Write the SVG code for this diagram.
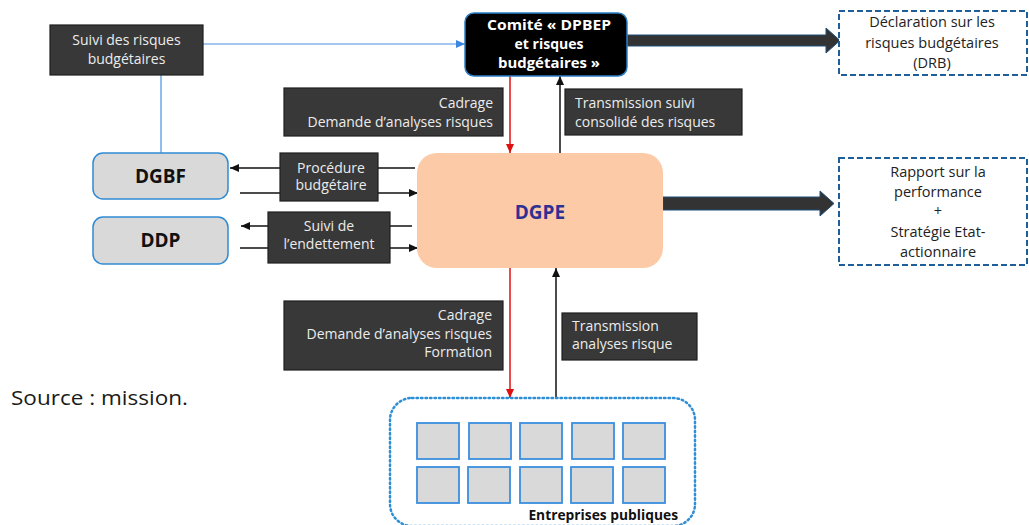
<svg xmlns="http://www.w3.org/2000/svg" width="1029" height="525" viewBox="0 0 1029 525">
<style>
text{font-family:"Open Sans","Noto Sans","DejaVu Sans",sans-serif}
.lbl rect{fill:#383838;stroke:#1e1e1e;stroke-width:1.2}
.lbl text{fill:#ececec;font-size:14px}
.gray{fill:#d9d9d9;stroke:#2f8ad3;stroke-width:1.5}
.big{font-size:19px;font-weight:bold;fill:#111;text-anchor:middle}
.dash{fill:#fff;stroke:#1f5f99;stroke-width:2;stroke-dasharray:6 3}
.out{fill:#222;font-size:14.5px;text-anchor:middle}
.sq{fill:#d9d9d9;stroke:#3a8ede;stroke-width:1.8}
.k{stroke:#111;stroke-width:1.5;fill:none}
.r{stroke:#e01010;stroke-width:1.5;fill:none}
.b{stroke:#4a8fe0;stroke-width:1.2;fill:none}
.thick{fill:#333;stroke:#1f4e79;stroke-width:1}
.cw{fill:#fff;font-size:14px;font-weight:bold;text-anchor:middle}
</style>
<defs>
<marker id="ak" markerUnits="userSpaceOnUse" markerWidth="10" markerHeight="10" refX="9" refY="5" orient="auto"><path d="M0,1 L9,5 L0,9 z" fill="#111"/></marker>
<marker id="ar" markerUnits="userSpaceOnUse" markerWidth="10" markerHeight="10" refX="9" refY="5" orient="auto"><path d="M0,1 L9,5 L0,9 z" fill="#e01010"/></marker>
<marker id="ab" markerUnits="userSpaceOnUse" markerWidth="10" markerHeight="10" refX="9" refY="5" orient="auto"><path d="M0,1 L9,5 L0,9 z" fill="#3a86e0"/></marker>
</defs>
<rect width="1029" height="525" fill="#fff"/>
<g id="connectors">
<line class="b" x1="203" y1="44" x2="465" y2="44" marker-end="url(#ab)"/>
<line class="b" x1="161" y1="75" x2="161" y2="153"/>
<line class="r" x1="510" y1="76" x2="510" y2="153" marker-end="url(#ar)"/>
<line class="k" x1="560" y1="153" x2="560" y2="76" marker-end="url(#ak)"/>
<line class="k" x1="415" y1="168" x2="230" y2="168" marker-end="url(#ak)"/>
<line class="k" x1="240" y1="193" x2="418" y2="193" marker-end="url(#ak)"/>
<line class="k" x1="412" y1="226" x2="241" y2="226" marker-end="url(#ak)"/>
<line class="k" x1="240" y1="248" x2="418" y2="248" marker-end="url(#ak)"/>
<line class="r" x1="510" y1="268" x2="510" y2="398" marker-end="url(#ar)"/>
<line class="k" x1="556" y1="398" x2="556" y2="268" marker-end="url(#ak)"/>
<path class="thick" d="M627,35 L826,35 L826,28 L840,40.5 L826,53 L826,46 L627,46 z"/>
<path class="thick" d="M663,197 L820,197 L820,191 L834,203.5 L820,216 L820,210 L663,210 z"/>
</g>
<g id="suivi-risques" class="lbl">
<rect x="50" y="25" width="153" height="50"/>
<text x="126.5" y="45" text-anchor="middle">Suivi des risques</text>
<text x="126.5" y="64" text-anchor="middle">budgétaires</text>
</g>
<g id="comite">
<rect x="465" y="13" width="162" height="63" rx="9" fill="#000" stroke="#2a7fc6" stroke-width="1.5"/>
<text class="cw" x="549" y="30" textLength="124" lengthAdjust="spacingAndGlyphs">Comité « DPBEP</text>
<text class="cw" x="549" y="49">et risques</text>
<text class="cw" x="549" y="68" textLength="102" lengthAdjust="spacingAndGlyphs">budgétaires »</text>
</g>
<g id="drb">
<rect class="dash" x="839" y="11" width="188" height="64"/>
<text class="out" x="932" y="27">Déclaration sur les</text>
<text class="out" x="932" y="48">risques budgétaires</text>
<text class="out" x="932" y="68">(DRB)</text>
</g>
<g id="cadrage-haut" class="lbl">
<rect x="284" y="88" width="219" height="48"/>
<text x="493" y="108" text-anchor="end">Cadrage</text>
<text x="493" y="127" text-anchor="end">Demande d’analyses risques</text>
</g>
<g id="transmission-suivi" class="lbl">
<rect x="565" y="89" width="177" height="46"/>
<text x="575" y="108">Transmission suivi</text>
<text x="575" y="127">consolidé des risques</text>
</g>
<g id="dgbf">
<rect class="gray" x="93" y="153" width="135" height="46" rx="10"/>
<text class="big" x="160.5" y="183">DGBF</text>
</g>
<g id="ddp">
<rect class="gray" x="93" y="217" width="135" height="47" rx="10"/>
<text class="big" x="160.5" y="247">DDP</text>
</g>
<g id="procedure" class="lbl">
<rect x="280" y="153" width="98" height="48"/>
<text x="331" y="173" text-anchor="middle" font-size="13.5">Procédure</text>
<text x="331" y="190" text-anchor="middle" font-size="13.5">budgétaire</text>
</g>
<g id="endettement" class="lbl">
<rect x="268" y="212" width="122" height="51"/>
<text x="329" y="231" text-anchor="middle">Suivi de</text>
<text x="329" y="249" text-anchor="middle">l’endettement</text>
</g>
<g id="dgpe">
<rect x="417" y="153" width="246" height="115" rx="20" fill="#fdcaa8"/>
<text x="540" y="219" font-size="19" font-weight="bold" fill="#2e3192" text-anchor="middle">DGPE</text>
</g>
<g id="rapport">
<rect class="dash" x="839" y="158" width="188" height="107"/>
<text class="out" x="938" y="177">Rapport sur la</text>
<text class="out" x="938" y="197">performance</text>
<text class="out" x="938" y="216">+</text>
<text class="out" x="938" y="237">Stratégie Etat-</text>
<text class="out" x="938" y="257">actionnaire</text>
</g>
<g id="cadrage-bas" class="lbl">
<rect x="284" y="301" width="219" height="69"/>
<text x="492" y="320" text-anchor="end">Cadrage</text>
<text x="492" y="339" text-anchor="end">Demande d’analyses risques</text>
<text x="492" y="357" text-anchor="end">Formation</text>
</g>
<g id="transmission-analyses" class="lbl">
<rect x="562" y="313" width="135" height="47"/>
<text x="572" y="331">Transmission</text>
<text x="572" y="349">analyses risque</text>
</g>
<g id="source">
<text x="11" y="405" font-size="20.5" fill="#1a1a1a" textLength="177" lengthAdjust="spacingAndGlyphs">Source : mission.</text>
</g>
<g id="entreprises">
<rect x="390" y="398" width="305" height="128" rx="22" fill="none" stroke="#2f8fd6" stroke-width="2.5" stroke-dasharray="1.5 3" stroke-linecap="round"/>
<rect class="sq" x="417" y="423" width="42" height="36"/>
<rect class="sq" x="469" y="423" width="42" height="36"/>
<rect class="sq" x="520" y="423" width="42" height="36"/>
<rect class="sq" x="572" y="423" width="42" height="36"/>
<rect class="sq" x="623" y="423" width="42" height="36"/>
<rect class="sq" x="417" y="467" width="42" height="36"/>
<rect class="sq" x="468" y="467" width="42" height="36"/>
<rect class="sq" x="520" y="467" width="42" height="36"/>
<rect class="sq" x="571" y="467" width="42" height="36"/>
<rect class="sq" x="623" y="467" width="42" height="36"/>
<text x="678" y="520" font-size="13.8" font-weight="bold" fill="#111" text-anchor="end">Entreprises publiques</text>
</g>
</svg>
